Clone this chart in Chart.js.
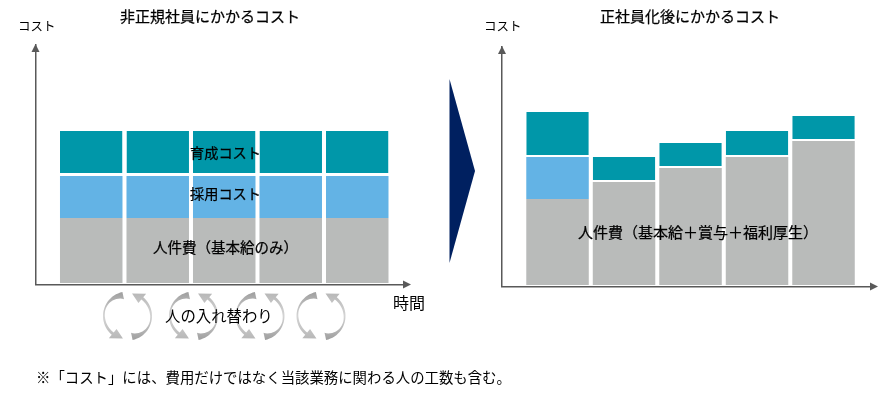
<!DOCTYPE html>
<html lang="ja">
<head>
<meta charset="utf-8">
<title>コスト比較</title>
<script src="https://cdn.jsdelivr.net/npm/chart.js@4"></script>
<style>
  html, body { margin: 0; padding: 0; background: #fff; overflow: hidden; }
  #page { position: relative; width: 887px; height: 396px; font-family: "Noto Sans CJK JP", sans-serif; color: #000; }
  canvas { position: absolute; top: 0; }
  #left { left: 0; }
  #right { left: 445px; }
  .t { position: absolute; white-space: nowrap; line-height: 1; font-size: 15px; transform: translateY(-50%); }
  .dark { -webkit-text-stroke: 0.25px #000; }
</style>
</head>
<body>
<div id="page">
  <canvas id="left" width="445" height="396"></canvas>
  <canvas id="right" width="442" height="396"></canvas>

  <div class="t dark" style="left:120px;top:15px">非正規社員にかかるコスト</div>
  <div class="t dark" style="left:600px;top:15px">正社員化後にかかるコスト</div>
  <div class="t" style="left:18px;top:26px;font-size:12.5px">コスト</div>
  <div class="t" style="left:484px;top:26px;font-size:12.5px">コスト</div>
  <div class="t dark" style="left:190px;top:152px;font-size:14.2px">育成コスト</div>
  <div class="t dark" style="left:190px;top:193px;font-size:14.2px">採用コスト</div>
  <div class="t dark" style="left:153px;top:247px;font-size:14.5px">人件費（基本給のみ）</div>
  <div class="t dark" style="left:578px;top:231px">人件費（基本給＋賞与＋福利厚生）</div>
  <div class="t" style="left:393px;top:302px;font-size:16px">時間</div>
  <div class="t" style="left:165px;top:316px;font-size:15.4px">人の入れ替わり</div>
  <div class="t" style="left:36px;top:377px;font-size:14.4px">※「コスト」には、費用だけではなく当該業務に関わる人の工数も含む。</div>
</div>

<script>
const periods = [1, 2, 3, 4, 5];

const leftPersonnel = [65, 65, 65, 65, 65];
const leftHiring = [42, 42, 42, 42, 42];
const leftTraining = [45, 45, 45, 45, 45];

const rightPersonnel = [86, 103, 117, 128, 144];
const rightHiring = [42, 0, 0, 0, 0];
const rightTraining = [45, 25, 25, 26, 25];

const TEAL = "#0097a9";
const BLUE = "#63b3e5";
const GRAY = "#b9bbba";
const AXIS = "#595959";

// centres of the turnover arrow pairs under the left chart
const swapCentres = [127.5, 193.5, 260, 321];

function toPoints(values) {
  return values.map(function (v, i) {
    return { x: periods[i], y: v };
  });
}

function triangle(ctx, x1, y1, x2, y2, x3, y3, color) {
  ctx.fillStyle = color;
  ctx.beginPath();
  ctx.moveTo(x1, y1);
  ctx.lineTo(x2, y2);
  ctx.lineTo(x3, y3);
  ctx.closePath();
  ctx.fill();
}

// axis arrowheads sit on the ends of the scale borders
const axisArrows = {
  id: "axisArrows",
  afterDraw(chart) {
    const ctx = chart.ctx;
    const a = chart.chartArea;
    triangle(ctx, a.left, a.top - 1, a.left - 4, a.top + 7, a.left + 4, a.top + 7, AXIS);
    triangle(ctx, a.right + 7, a.bottom, a.right - 1, a.bottom - 4, a.right - 1, a.bottom + 4, AXIS);
  }
};

// one half of a turnover pair: thick tail at the top, tapering round to a head at the bottom
function swapArc(ctx) {
  const outer = 24.5;
  const start = -78 * Math.PI / 180;
  const end = 50 * Math.PI / 180;
  const at = function (a, r) {
    return [-r * Math.cos(a), r * Math.sin(a)];
  };
  const thickness = function (t) {
    return t < 0.5 ? 1.5 + 6 * Math.pow(1 - 2 * t, 2) : 1.5 + 1.5 * (2 * t - 1);
  };
  const g = ctx.createLinearGradient(0, -25, 0, 25);
  g.addColorStop(0, "#9c9c9c");
  g.addColorStop(0.5, "#d4d4d4");
  g.addColorStop(1, "#b5b5b5");
  ctx.fillStyle = g;
  ctx.beginPath();
  for (let i = 0; i <= 24; i++) {
    const p = at(start + (end - start) * i / 24, outer);
    ctx.lineTo(p[0], p[1]);
  }
  ctx.lineTo.apply(ctx, at(end, 29));
  ctx.lineTo.apply(ctx, at(end + 0.5, 23));
  ctx.lineTo.apply(ctx, at(end, 17));
  for (let i = 24; i >= 0; i--) {
    const p = at(start + (end - start) * i / 24, outer - thickness(i / 24));
    ctx.lineTo(p[0], p[1]);
  }
  ctx.closePath();
  ctx.fill();
}

const turnover = {
  id: "turnover",
  afterDraw(chart) {
    const ctx = chart.ctx;
    swapCentres.forEach(function (cx) {
      ctx.save();
      ctx.translate(cx, 316);
      swapArc(ctx);
      ctx.rotate(Math.PI);
      swapArc(ctx);
      ctx.restore();
    });
  }
};

const transition = {
  id: "transition",
  afterDraw(chart) {
    triangle(chart.ctx, 4.5, 79, 30, 171, 4.5, 263, "#002060");
  }
};

function dataset(label, values, color, gap) {
  return {
    label: label,
    data: toPoints(values),
    backgroundColor: color,
    borderColor: "#fff",
    borderWidth: { top: 0, left: 0, right: 0, bottom: gap },
    borderSkipped: false,
    inflateAmount: 0,
    barThickness: 62.5
  };
}

function makeChart(id, sets, padding, xMin, xMax, yMax, plugins) {
  return new Chart(document.getElementById(id), {
    type: "bar",
    data: { datasets: sets },
    options: {
      responsive: false,
      animation: false,
      layout: { padding: padding },
      plugins: { legend: { display: false }, tooltip: { enabled: false } },
      scales: {
        x: {
          type: "linear",
          offset: false,
          stacked: true,
          min: xMin,
          max: xMax,
          grid: { display: false },
          ticks: { display: false },
          border: { color: AXIS, width: 1.5 },
          afterFit(s) { s.height = 0; }
        },
        y: {
          stacked: true,
          min: -1.5,
          max: yMax,
          grid: { display: false },
          ticks: { display: false },
          border: { color: AXIS, width: 1.5 },
          afterFit(s) { s.width = 0; }
        }
      }
    },
    plugins: plugins
  });
}

makeChart("left", [
  dataset("人件費", leftPersonnel, GRAY, 0),
  dataset("採用コスト", leftHiring, BLUE, 0),
  dataset("育成コスト", leftTraining, TEAL, 3)
], { left: 35.5, top: 45, right: 41, bottom: 111.5 }, 0.162, 5.703, 238, [axisArrows, turnover]);

makeChart("right", [
  dataset("人件費", rightPersonnel, GRAY, 0),
  dataset("採用コスト", rightHiring, BLUE, 0),
  dataset("育成コスト", rightTraining, TEAL, 2)
], { left: 57, top: 47, right: 16, bottom: 109.5 }, 0.165, 5.714, 238, [axisArrows, transition]);
</script>
</body>
</html>
